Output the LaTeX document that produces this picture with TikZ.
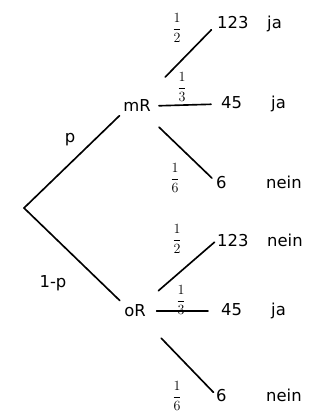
\documentclass[tikz,border=0pt]{standalone}
\usepackage{fontspec}
\setmainfont{DejaVu Sans}
\usepackage{amsmath}
\usepackage{tikz}
\newcommand{\answer}[2]{\makebox[15mm][l]{#1}#2}

\begin{document}
\begin{tikzpicture}[
  x=0.3mm, y=-0.3mm,
  every node/.style={font=\fontsize{14}{16}\selectfont},
  fork/.style={inner sep=0pt},
  leaf/.style={anchor=west, inner sep=0pt},
  frac/.style={inner sep=0pt, font=\fontsize{13}{15}\selectfont},
  branch/.style={line width=1.4pt, line cap=round}
]
  \useasboundingbox (0,0) rectangle (327,418);

  %% Root and the two forks
  \coordinate (root) at (24,208);
  \node[fork] (mR) at (137,106) {mR};
  \node[fork] (oR) at (135,311) {oR};

  %% Outcomes
  \node[leaf] (mR1) at (217,24)  {\answer{123}{ja}};
  \node[leaf] (mR2) at (221,104) {\answer{45}{ja}};
  \node[leaf] (mR3) at (216,182) {\answer{6}{nein}};
  \node[leaf] (oR1) at (217,240) {\answer{123}{nein}};
  \node[leaf] (oR2) at (221,311) {\answer{45}{ja}};
  \node[leaf] (oR3) at (216,395) {\answer{6}{nein}};

  %% First stage
  \draw[branch, shorten >=1.5mm] (root) -- (mR.south west);
  \draw[branch, shorten >=1.8mm] (root) -- (oR.north west);
  \node (lp) at (70,140) {p};
  \node (lq) at (53,283) {1-p};

  %% Second stage, mR
  \draw[branch, shorten <=9.5mm, shorten >=2.4mm] (mR) -- (mR1.west);
  \draw[branch, shorten <=2.4mm, shorten >=3mm] (mR.east) -- (mR2.west);
  \draw[branch, shorten <=6.5mm, shorten >=1.7mm] (mR) -- (mR3.west);
  \node[frac] (fm1) at (177,28)  {$\dfrac{1}{2}$};
  \node[frac] (fm2) at (182,87)  {$\dfrac{1}{3}$};
  \node[frac] (fm3) at (175,178) {$\dfrac{1}{6}$};

  %% Second stage, oR
  \draw[branch, shorten <=6.4mm, shorten >=1mm] (oR) -- (oR1.west);
  \draw[branch, shorten <=3.2mm, shorten >=3.9mm] (oR.east) -- (oR2.west);
  \draw[branch, shorten <=8.7mm, shorten >=1.1mm] (oR) -- (oR3.west);
  \node[frac] (fo1) at (177,239) {$\dfrac{1}{2}$};
  \node[frac] (fo2) at (181,300) {$\dfrac{1}{3}$};
  \node[frac] (fo3) at (177,396) {$\dfrac{1}{6}$};
\end{tikzpicture}
\end{document}
